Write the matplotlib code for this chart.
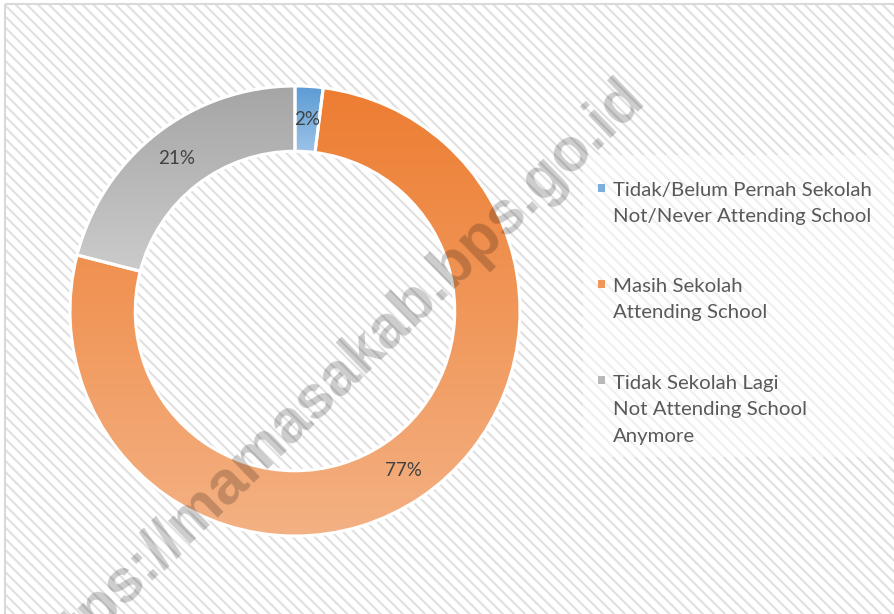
import numpy as np
import matplotlib
matplotlib.use("Agg")
import matplotlib.pyplot as plt
from matplotlib.patches import Rectangle
from matplotlib.colors import to_rgb

# chart data
categories = [
    "Tidak/Belum Pernah Sekolah\nNot/Never Attending School",
    "Masih Sekolah\nAttending School",
    "Tidak Sekolah Lagi\nNot Attending School\nAnymore",
]
shares = [2, 77, 21]
top_colors = ["#5B9BD5", "#ED7D31", "#A5A5A5"]
bottom_colors = ["#9DC3E6", "#F4B183", "#CBCBCB"]
watermark = "https://mamasakab.bps.go.id"

W, H = 895, 614
plt.rcParams["hatch.color"] = "#E0E0E0"
plt.rcParams["hatch.linewidth"] = 1.5

fig = plt.figure(figsize=(W / 100, H / 100), dpi=100)

# background layer in pixel coords (y down)
bg = fig.add_axes([0, 0, 1, 1])
bg.set_xlim(0, W)
bg.set_ylim(H, 0)
bg.axis("off")
bg.add_patch(Rectangle((5, 4), W + 10, H + 10, facecolor="white",
                       edgecolor="#E0E0E0", hatch="\\\\\\", lw=0))
bg.add_patch(Rectangle((5, 4), W + 10, H + 10, facecolor="none",
                       edgecolor="#D9D9D9", lw=1.5))
# legend area (lighter)
bg.add_patch(Rectangle((583, 155), W - 583, 302, facecolor="white",
                       edgecolor="none", alpha=0.5))

# donut
cx, cy, R = 295, 311, 225
ax = fig.add_axes([(cx - R) / W, (H - cy - R) / H, 2 * R / W, 2 * R / H])
wedges, _, autotexts = ax.pie(
    shares, startangle=90, counterclock=False, autopct="%.0f%%",
    pctdistance=0.855, wedgeprops=dict(width=0.29, edgecolor="white", lw=2.2),
    textprops=dict(color="#404040", fontsize=13.5, family="Lato"),
)
for w, c0, c1 in zip(wedges, top_colors, bottom_colors):
    ext = w.get_path().get_extents()
    t = np.linspace(0, 1, 256)[:, None]
    grad = (1 - t) * np.array(to_rgb(c0)) + t * np.array(to_rgb(c1))
    im = ax.imshow(grad[:, None, :], extent=(ext.x0, ext.x1, ext.y0, ext.y1),
                   origin="upper", aspect="auto", zorder=1.5)
    im.set_clip_path(w)
    w.set_facecolor("none")
    w.set_zorder(2)
for at in autotexts:
    at.set_zorder(3)
ax.set_xlim(-1, 1)
ax.set_ylim(-1, 1)
ax.set_aspect("auto")
ax.axis("off")

# legend (va=baseline anchors the last line, so offset by line count)
leg_y = [194, 290, 386]
line_h = 27.8
for lab, c0, c1, y in zip(categories, top_colors, bottom_colors, leg_y):
    mid = 0.5 * (np.array(to_rgb(c0)) + np.array(to_rgb(c1)))
    bg.add_patch(Rectangle((598, y - 10), 7.5, 7.5, facecolor=mid, edgecolor="none"))
    n = lab.count("\n")
    bg.text(613, y + n * line_h, lab, color="#595959", fontsize=14.7,
            family="Lato", va="baseline", ha="left", linespacing=1.66)

# watermark on top of everything
fig.text(333 / W, 1 - 381 / H, watermark, rotation=44, rotation_mode="anchor",
         ha="center", va="center", fontsize=44, fontweight="bold",
         family="Liberation Sans", color="black", alpha=0.2, zorder=10)

fig.savefig("out.png", dpi=100)
